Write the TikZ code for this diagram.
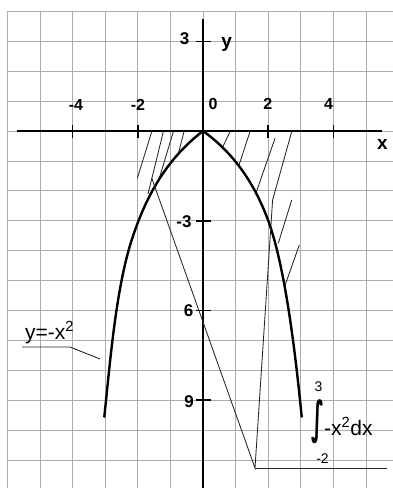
\documentclass[tikz,border=0pt]{standalone}
\usepackage{fontspec}
\setmainfont{Liberation Sans}
\newfontfamily\dejavu{DejaVu Sans}
\begin{document}
\begin{tikzpicture}[x=1pt,y=-1pt,
  gridline/.style={gray!65, line width=0.8pt},
  axisline/.style={black, line width=2.4pt},
  tickline/.style={black, line width=1.6pt},
  curveline/.style={black, line width=2.4pt, line cap=round},
  hatchline/.style={black!85, line width=0.85pt},
  leader/.style={black!85, line width=0.85pt},
  xlab/.style={font=\fontsize{16}{18}\selectfont\bfseries, inner sep=0pt},
  ylab/.style={font=\fontsize{17}{19}\selectfont\bfseries, inner sep=0pt},
  axlab/.style={font=\fontsize{19}{21}\selectfont\bfseries, inner sep=0pt},
  note/.style={font=\fontsize{21}{23}\selectfont, inner sep=0pt},
  limit/.style={font=\fontsize{14}{16}\selectfont, inner sep=0pt},
]
\useasboundingbox (0,0) rectangle (393,488);
\fill[white] (0,0) rectangle (393,488);
% grid
\foreach \k in {-6,...,5} \draw[gridline] ({203+32.6*\k},11.4) -- ({203+32.6*\k},488);
\foreach \k in {-11,...,4} \draw[gridline] (7.4,{131-29.9*\k}) -- (393,{131-29.9*\k});
% axes
\coordinate (xs) at (17,131);
\coordinate (xe) at (382,131);
\coordinate (ys) at (203,19);
\coordinate (ye) at (203,488);
\draw[axisline] (xs) -- (xe);
\draw[axisline] (ys) -- (ye);
\foreach \k in {-4,-2,2,4} \draw[tickline] ({203+32.6*\k},125) -- ({203+32.6*\k},138);
\foreach \k in {3,-3,-6,-9} \draw[tickline] (196,{131-29.9*\k}) -- (211,{131-29.9*\k});
% axis labels
\node[xlab] (lxm4) at (76,105) {-4};
\node[xlab] (lxm2) at (138,105) {-2};
\node[xlab] (lx0) at (213,104) {0};
\node[xlab] (lx2) at (267.7,104) {2};
\node[xlab] (lx4) at (328.5,104) {4};
\node[ylab] (ly3) at (184.5,39) {3};
\node[ylab] (lym3) at (184,222) {-3};
\node[ylab] (lym6) at (188.5,311) {6};
\node[ylab] (lym9) at (189,402) {9};
\node[axlab] (lx) at (382.5,144) {x};
\node[axlab] (ly) at (226.7,44) {y};
% hatching, left part
\draw[hatchline] (151.7,131.7) -- (137.3,178.3);
\draw[hatchline] (163.3,131.7) -- (148,194);
\draw[hatchline] (173.3,131.7) -- (158,182.5);
\draw[hatchline] (184,131.7) -- (178,155);
% hatching, right part
\draw[hatchline] (230,131.7) -- (223,146.5);
\draw[hatchline] (250,131.7) -- (239,165);
\draw[hatchline] (275,138.3) -- (256,193);
\draw[hatchline] (291.7,131.7) -- (272.6,200);
\draw[hatchline] (291.7,200) -- (278.3,243.3);
\draw[hatchline] (299.3,245) -- (285,285.5);
% parabola
\coordinate (apex) at (203,131);
\coordinate (lmid) at (131.7,240);
\coordinate (lend) at (104.3,416.7);
\coordinate (rmid) at (268,220);
\coordinate (rend) at (301.7,416.7);
\draw[curveline] (lend) .. controls (109.75,366.7) and (115.5,290) .. (lmid)
  .. controls (144.7,200) and (164,161) .. (apex)
  .. controls (238,156) and (256.9,190) .. (rmid)
  .. controls (286.5,270) and (296.7,366.7) .. (rend);
% label of the curve
\node[note, anchor=base west] (plab) at (25,339) {y=-x\textsuperscript{2}};
\coordinate (p1) at (22,347);
\coordinate (p2) at (70,347);
\coordinate (p3) at (100,359);
\draw[leader] (p1) -- (p2) -- (p3);
% integral label
\node[inner sep=0pt] (intsign) at (317.5,421.5) {\resizebox*{13pt}{44pt}{\dejavu\bfseries ∫}};
\node[limit] (ihi) at (318.5,387) {3};
\node[limit] (ilo) at (322.5,458.5) {-2};
\node[note, anchor=base west] (iexp) at (324,435) {-x\textsuperscript{2}dx};
\coordinate (intL) at (255,468);
\coordinate (intR) at (387,468);
\coordinate (hb) at (151.8,178.3);
\coordinate (h4) at (272.6,200);
\draw[leader] (hb) -- (intL) -- (h4);
\draw[leader] (intL) -- (intR);
\end{tikzpicture}
\end{document}
